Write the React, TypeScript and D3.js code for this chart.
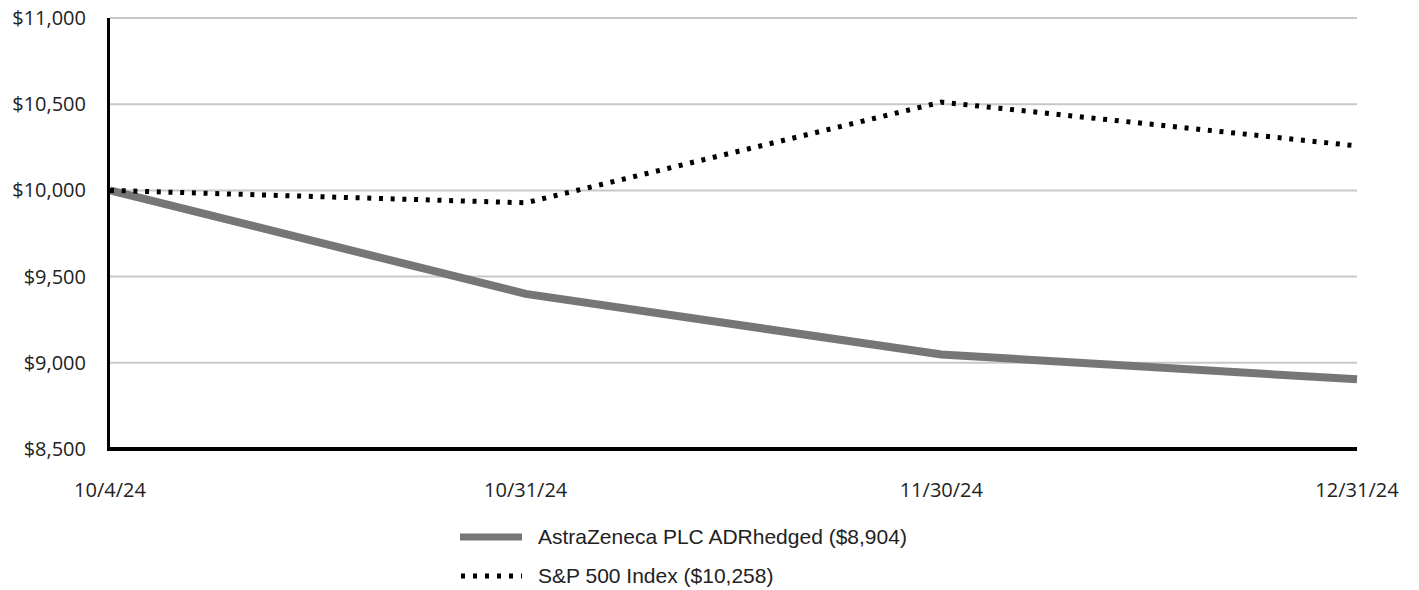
import { useEffect, useRef } from "react"
import * as d3 from "d3"

const dates = ["10/4/24", "10/31/24", "11/30/24", "12/31/24"]
const astraValues = [10000, 9400, 9048, 8904]
const spValues = [10000, 9928, 10512, 10258]
const yTicks = [8500, 9000, 9500, 10000, 10500, 11000]
const legendLabels = ["AstraZeneca PLC ADRhedged ($8,904)", "S&P 500 Index ($10,258)"]

const WIDTH = 1419
const HEIGHT = 590

export default function App() {
  const svgRef = useRef<SVGSVGElement>(null)

  useEffect(() => {
    document.body.style.margin = "0"
    if (!svgRef.current) return
    const svg = d3.select(svgRef.current)
    svg.selectAll("*").remove()

    const left = 110
    const right = 1357
    const top = 18
    const bottom = 449

    const x = d3.scalePoint<string>().domain(dates).range([left, right])
    const y = d3.scaleLinear().domain([8500, 11000]).range([bottom, top])

    // gridlines
    svg
      .append("g")
      .selectAll("line")
      .data(yTicks.slice(1))
      .join("line")
      .attr("x1", left)
      .attr("x2", right)
      .attr("y1", (d) => y(d))
      .attr("y2", (d) => y(d))
      .attr("stroke", "#c8c8c8")
      .attr("stroke-width", 2)

    // y tick labels
    svg
      .append("g")
      .selectAll("text")
      .data(yTicks)
      .join("text")
      .attr("x", 86)
      .attr("y", (d) => y(d))
      .attr("dy", "0.35em")
      .attr("text-anchor", "end")
      .attr("font-family", "'Open Sans', sans-serif")
      .attr("font-size", "20px")
      .attr("fill", "#222")
      .text((d) => "$" + d3.format(",")(d))

    // x tick labels
    svg
      .append("g")
      .selectAll("text")
      .data(dates)
      .join("text")
      .attr("x", (d) => x(d) ?? 0)
      .attr("y", 497)
      .attr("text-anchor", "middle")
      .attr("font-family", "'Open Sans', sans-serif")
      .attr("font-size", "20px")
      .attr("fill", "#222")
      .text((d) => d)

    const line = d3
      .line<number>()
      .x((_, i) => x(dates[i]) ?? 0)
      .y((d) => y(d))

    // AstraZeneca line
    svg
      .append("path")
      .datum(astraValues)
      .attr("d", line)
      .attr("fill", "none")
      .attr("stroke", "#767676")
      .attr("stroke-width", 8)

    // S&P line
    svg
      .append("path")
      .datum(spValues)
      .attr("d", line)
      .attr("fill", "none")
      .attr("stroke", "#000")
      .attr("stroke-width", 5)
      .attr("stroke-dasharray", "4,7.7")

    // axes
    svg
      .append("line")
      .attr("x1", 108.5)
      .attr("x2", 108.5)
      .attr("y1", top)
      .attr("y2", bottom + 2)
      .attr("stroke", "#000")
      .attr("stroke-width", 3)
    svg
      .append("line")
      .attr("x1", 107)
      .attr("x2", right)
      .attr("y1", bottom)
      .attr("y2", bottom)
      .attr("stroke", "#000")
      .attr("stroke-width", 4)

    // legend
    const legend = svg.append("g")
    const rows = [537, 576]
    legend
      .append("line")
      .attr("x1", 460)
      .attr("x2", 522)
      .attr("y1", rows[0])
      .attr("y2", rows[0])
      .attr("stroke", "#767676")
      .attr("stroke-width", 7)
    legend
      .append("line")
      .attr("x1", 461)
      .attr("x2", 522)
      .attr("y1", rows[1])
      .attr("y2", rows[1])
      .attr("stroke", "#000")
      .attr("stroke-width", 5)
      .attr("stroke-dasharray", "4,8")
    legendLabels.forEach((label, i) => {
      legend
        .append("text")
        .attr("x", 538)
        .attr("y", rows[i])
        .attr("dy", "0.35em")
        .attr("font-family", "'Liberation Sans', Arial, sans-serif")
        .attr("font-size", "21px")
        .attr("fill", "#222")
        .text(label)
    })
  }, [])

  return <svg ref={svgRef} width={WIDTH} height={HEIGHT} style={{ display: "block", background: "#fff" }} />
}
